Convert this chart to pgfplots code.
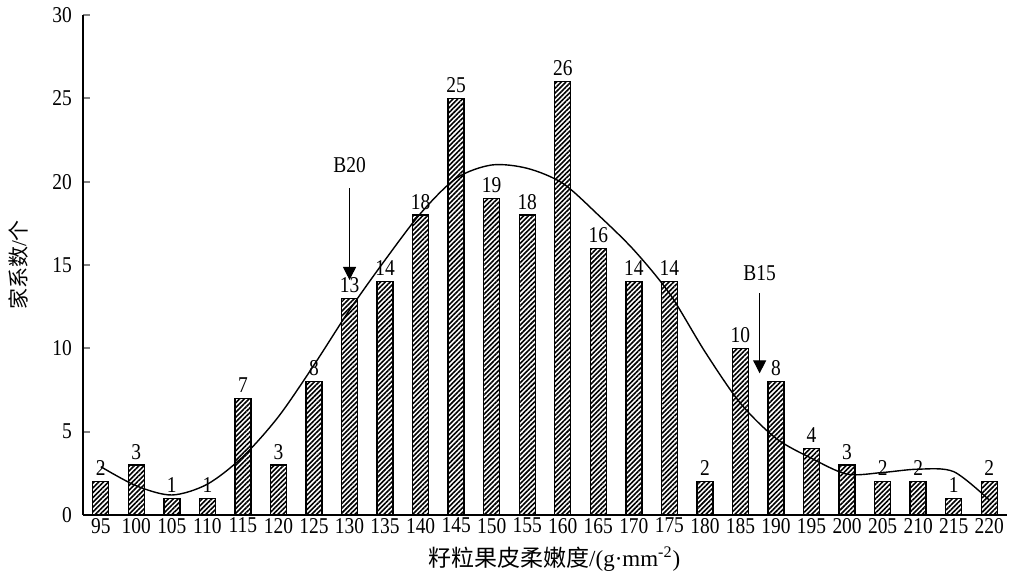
\documentclass[border=0pt]{standalone}
\usepackage{fontspec}
\setmainfont{Liberation Serif}
\newfontfamily\tall[FakeStretch=0.86]{Liberation Serif}
\newfontfamily\cjk{Noto Sans CJK SC}
\usepackage{pgfplots}
\pgfplotsset{compat=1.18}
\usetikzlibrary{patterns.meta,arrows.meta}
\newcommand{\numfont}{\tall\fontsize{11.3}{13}\selectfont}
\begin{document}
\begin{tikzpicture}
\path[use as bounding box] (-41.5pt,-30.5pt) rectangle (464.5pt,257.5pt);
\begin{axis}[
  scale only axis,
  width=462pt, height=250pt,
  xmin=-0.5, xmax=25.5,
  ymin=0, ymax=30,
  axis x line=bottom, axis y line=left,
  axis line style={-, line width=0.9pt},
  xtick={0,...,25},
  xticklabels={95,100,105,110,115,120,125,130,135,140,145,150,155,160,165,170,175,180,185,190,195,200,205,210,215,220},
  ytick={0,5,...,30},
  x tick style={draw=none},
  y tick style={line width=0.9pt},
  tick align=inside,
  major tick length=3.5pt,
  /pgf/number format/assume math mode=true,
  tick label style={font=\numfont},
  xticklabel style={yshift=2pt},
  yticklabel style={xshift=-2pt},
  xlabel={{\cjk 籽粒果皮柔嫩度}/(g·mm\textsuperscript{-2})},
  xlabel style={at={(rel axis cs:0.51,0)}, anchor=center, yshift=-22pt, font=\fontsize{11.5}{13}\selectfont},
  ylabel={{\cjk 家系数}/{\cjk 个}},
  ylabel style={at={(rel axis cs:0,0.5)}, anchor=center, yshift=32.5pt, font=\fontsize{10.5}{12}\selectfont},
  clip=false,
]
\addplot[ybar, bar width=8pt, draw=black, line width=0.7pt,
  pattern={Lines[angle=45,distance=1.7pt,line width=0.8pt]},
  nodes near coords, every node near coord/.append style={font=\numfont, inner sep=2.5pt}]
  coordinates {
  (0,2) (1,3) (2,1) (3,1) (4,7) (5,3) (6,8) (7,13) (8,14) (9,18)
  (10,25) (11,19) (12,18) (13,26) (14,16) (15,14) (16,14) (17,2) (18,10) (19,8)
  (20,4) (21,3) (22,2) (23,2) (24,1) (25,2)};
\addplot[smooth, tension=0.5, black, line width=0.7pt, mark=none]
  coordinates {
  (0,2.9) (1,1.75) (2,1.2) (3,1.85) (4,3.5) (5,5.9) (6,9.0) (7,12.3) (8,15.3) (9,18.1)
  (10,20.2) (11,21.0) (12,20.8) (13,19.9) (14,18.0) (15,15.9) (16,13.3) (17,9.8) (18,6.7) (19,4.6)
  (20,3.4) (21,2.45) (22,2.55) (23,2.75) (24,2.6) (25,0.9)};
\draw[line width=0.6pt, -{Triangle[length=6.5pt,width=6.5pt]}] (axis cs:7,19.6) -- (axis cs:7,14.1);
\node[font=\numfont] at (axis cs:7,21.0) {B20};
\draw[line width=0.6pt, -{Triangle[length=6.5pt,width=6.5pt]}] (axis cs:18.54,13.3) -- (axis cs:18.54,8.5);
\node[font=\numfont] at (axis cs:18.54,14.5) {B15};
\end{axis}
\end{tikzpicture}
\end{document}
